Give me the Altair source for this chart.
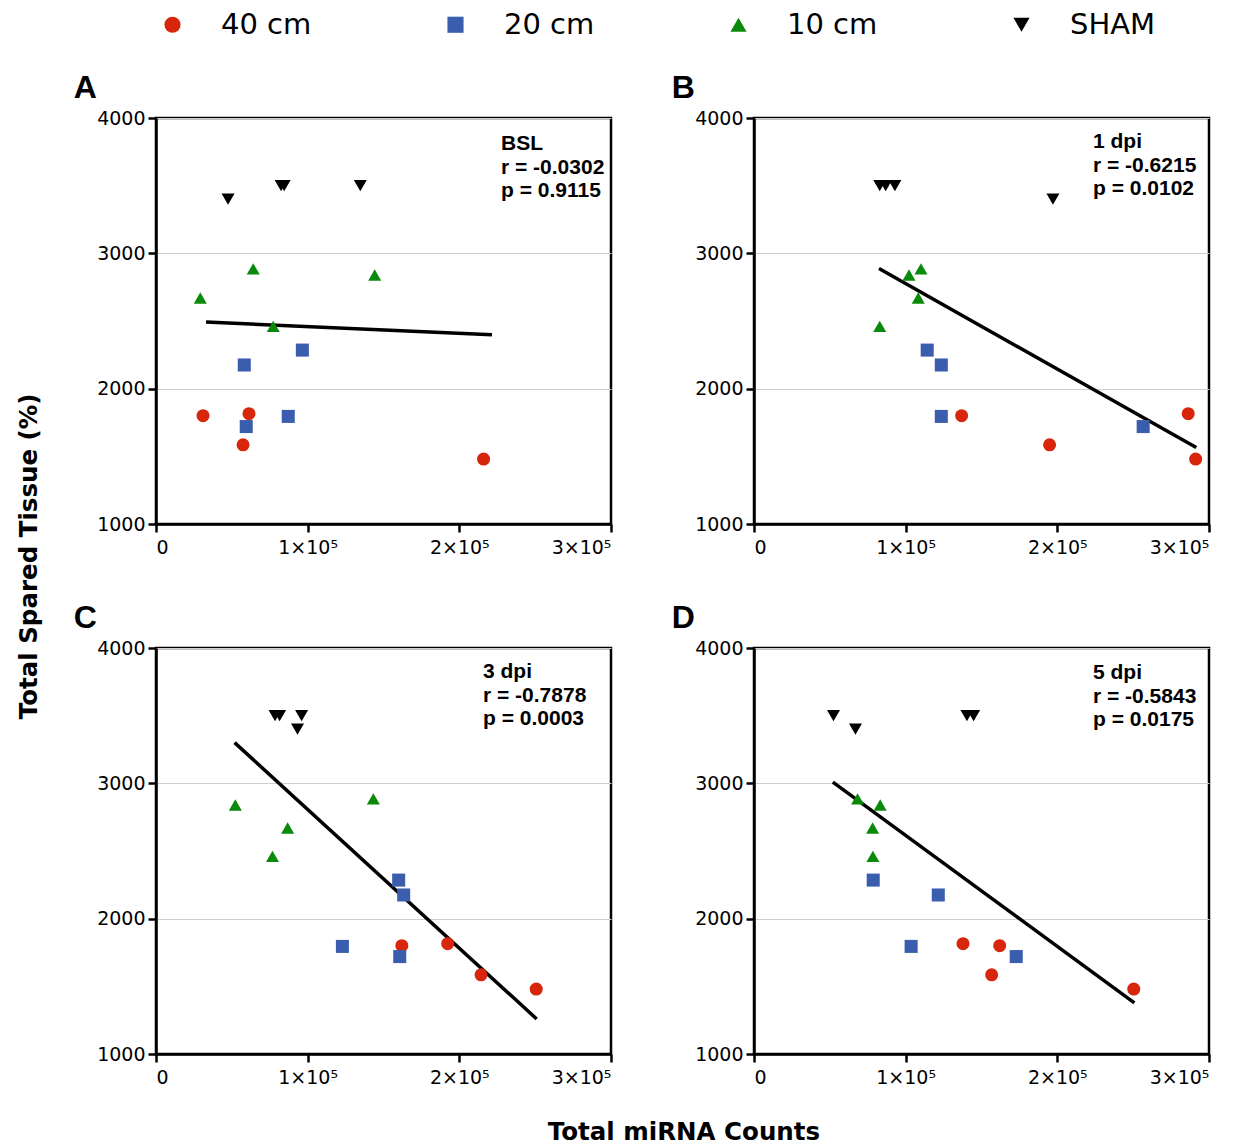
import altair as alt
import pandas as pd

GROUPS = ["40 cm", "20 cm", "10 cm", "SHAM"]
COLORS = ["#D7260B", "#3A5DAE", "#0A8A0A", "#000000"]
SHAPES = ["circle", "square", "triangle-up", "triangle-down"]

# Total spared tissue per animal (same animals in every panel)
TISSUE_40 = [1800, 1815, 1585, 1480]
TISSUE_20 = [2285, 2175, 1795, 1720]
TISSUE_10 = [2670, 2885, 2840, 2460]
TISSUE_SHAM = [3400, 3500, 3500, 3500]

# Total miRNA counts per animal, per time point
A_40 = [31000, 61300, 57400, 216000]
A_20 = [96500, 58200, 87200, 59500]
A_10 = [29200, 64100, 144200, 77300]
A_SHAM = [47500, 82500, 84500, 134700]

B_40 = [136900, 286300, 194900, 291200]
B_20 = [114200, 123500, 123500, 256600]
B_10 = [108300, 110100, 102200, 82900]
B_SHAM = [197100, 82900, 86800, 92900]

C_40 = [162100, 192300, 214300, 250700]
C_20 = [160000, 163300, 122900, 160700]
C_10 = [86800, 143300, 52300, 76800]
C_SHAM = [93300, 78500, 81500, 96000]

D_40 = [162000, 137800, 156700, 250400]
D_20 = [78600, 121500, 103600, 172900]
D_10 = [78200, 68300, 83200, 78400]
D_SHAM = [66900, 52400, 140400, 144800]

# Linear-fit line end points per panel
FIT_A_X = [33000, 221500]
FIT_A_Y = [2492, 2398]
FIT_B_X = [82400, 291600]
FIT_B_Y = [2888, 1565]
FIT_C_X = [51800, 251000]
FIT_C_Y = [3301, 1259]
FIT_D_X = [52000, 250800]
FIT_D_Y = [3009, 1378]

LABELS = ["BSL", "1 dpi", "3 dpi", "5 dpi"]
R_VALUES = ["-0.0302", "-0.6215", "-0.7878", "-0.5843"]
P_VALUES = ["0.9115", "0.0102", "0.0003", "0.0175"]
LETTERS = ["A", "B", "C", "D"]

TISSUE = [TISSUE_40, TISSUE_20, TISSUE_10, TISSUE_SHAM]
COUNTS = [
    [A_40, A_20, A_10, A_SHAM],
    [B_40, B_20, B_10, B_SHAM],
    [C_40, C_20, C_10, C_SHAM],
    [D_40, D_20, D_10, D_SHAM],
]
FITS = [(FIT_A_X, FIT_A_Y), (FIT_B_X, FIT_B_Y), (FIT_C_X, FIT_C_Y), (FIT_D_X, FIT_D_Y)]

# annotation box placement inside each panel (pixels from plot's top-left)
NOTE_X = [345, 339, 327, 339]
NOTE_Y = [15, 13, 13, 14]

FONT = "Liberation Sans"
AXFONT = "DejaVu Sans"
W, H = 455, 406


def panel(i):
    rows = []
    for g, xs, ys in zip(GROUPS, COUNTS[i], TISSUE):
        for x, y in zip(xs, ys):
            rows.append({"count": x, "tissue": y, "group": g})
    df = pd.DataFrame(rows)
    xenc = alt.X(
        "count:Q",
        scale=alt.Scale(domain=[0, 300000], nice=False, zero=False),
        axis=alt.Axis(
            values=[0, 100000, 200000, 300000],
            labelExpr="datum.value == 0 ? '0' : format(datum.value / 100000, 'd') + '×10⁵'",
            title=None,
            grid=False,
            labelPadding=6,
        ),
    )
    yenc = alt.Y(
        "tissue:Q",
        scale=alt.Scale(domain=[1000, 4000], nice=False, zero=False),
        axis=alt.Axis(values=[1000, 2000, 3000, 4000], format="d", title=None, grid=True),
    )
    legend = alt.Legend(
        title=None,
        orient="none",
        legendX=2,
        legendY=-108,
        direction="horizontal",
        columns=4,
        symbolSize=260,
        labelFontSize=29,
        labelFont=AXFONT,
        labelColor="black",
        labelOffset=34,
        columnPadding=129,
        gridAlign="all",
        symbolStrokeWidth=0,
    )
    pts = alt.Chart(df).mark_point(filled=True, size=170, opacity=1).encode(
        x=xenc,
        y=yenc,
        color=alt.Color("group:N", scale=alt.Scale(domain=GROUPS, range=COLORS), legend=legend),
        shape=alt.Shape("group:N", scale=alt.Scale(domain=GROUPS, range=SHAPES), legend=legend),
    )
    fx, fy = FITS[i]
    fit = alt.Chart(pd.DataFrame({"count": fx, "tissue": fy})).mark_line(
        color="black", strokeWidth=3.5
    ).encode(x="count:Q", y="tissue:Q")
    note = alt.Chart(
        pd.DataFrame({"t": [f"{LABELS[i]}\nr = {R_VALUES[i]}\np = {P_VALUES[i]}"]})
    ).mark_text(
        align="left", baseline="top", lineBreak="\n", fontSize=21, fontWeight="bold",
        font=FONT, lineHeight=23.5, color="black",
    ).encode(text="t:N", x=alt.value(NOTE_X[i]), y=alt.value(NOTE_Y[i]))
    return alt.layer(fit, pts, note).properties(
        width=W,
        height=H,
        title=alt.TitleParams(
            LETTERS[i], anchor="start", fontSize=32, fontWeight="bold", font=FONT,
            color="black", dx=-23, offset=4,
        ),
    )


row1 = alt.hconcat(panel(0), panel(1), spacing=56)
row2 = alt.hconcat(panel(2), panel(3), spacing=56).properties(
    title=alt.TitleParams(
        "Total miRNA Counts", orient="bottom", anchor="middle", fontSize=24.5,
        fontWeight="bold", font=AXFONT, color="black", offset=33, dx=42,
    )
)
chart = alt.vconcat(row1, row2, spacing=41).properties(
    padding={"left": 8, "top": 2, "right": 0, "bottom": 0},
    title=alt.TitleParams(
        "Total Spared Tissue (%)", orient="left", anchor="middle", fontSize=24.5,
        fontWeight="bold", font=AXFONT, color="black", offset=30, dx=21,
    ),
).configure_view(
    stroke="black", strokeWidth=2.5
).configure_axis(
    domainColor="black", domainWidth=2.5, tickColor="black", tickWidth=2.5, tickSize=8,
    labelFont=AXFONT, labelFontSize=19, labelColor="black", gridColor="#cfcfcf", gridWidth=1,
    labelPadding=3,
)

chart.save("out.html", embed_options={"renderer": "svg", "actions": False})
